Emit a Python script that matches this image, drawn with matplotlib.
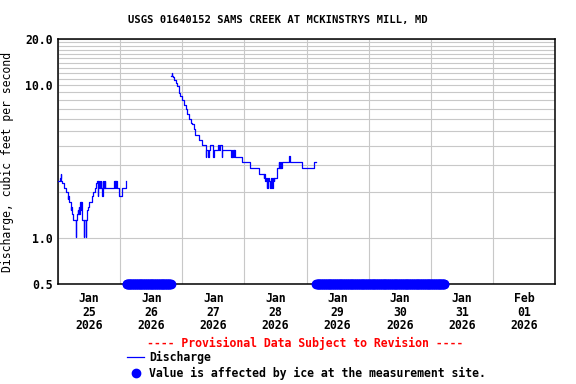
import pandas as pd
import matplotlib
matplotlib.use("Agg")
import matplotlib.pyplot as plt
import matplotlib.dates as mdates
from matplotlib.ticker import FixedLocator, NullFormatter
from matplotlib.lines import Line2D

plt.rcParams["font.family"] = ["DejaVu Sans Mono"]
plt.rcParams["font.weight"] = "bold"

start = pd.Timestamp("2026-01-25 00:00")

# discharge readings, hours after Jan 25 00:00 and cfs (step data)
seg1_hours = [0.0, 0.9, 1.1, 1.3, 1.7, 2.3, 3.0, 3.7, 3.9, 4.1, 4.3, 4.9, 5.2, 5.4, 5.5, 5.9,
              6.8, 7.0, 7.4, 7.6, 7.8, 8.0, 8.2, 8.5, 8.7, 8.9, 9.1, 9.2, 10.0, 10.2, 10.7,
              10.9, 11.1, 11.7, 12.1, 13.0, 13.7, 14.2, 14.8, 15.2, 15.4, 15.6, 15.9, 16.1,
              16.4, 16.6, 16.8, 17.0, 17.2, 17.4, 17.6, 17.8, 18.0, 18.2, 21.7, 21.9, 22.1,
              22.3, 22.5, 22.7, 23.6, 24.9, 26.2, 26.4]
seg1_cfs = [2.36, 2.45, 2.61, 2.36, 2.28, 2.11, 1.99, 1.80, 1.89, 1.80, 1.71, 1.52, 1.60, 1.52, 1.43, 1.32,
            1.02, 1.32, 1.43, 1.52, 1.43, 1.60, 1.43, 1.71, 1.52, 1.71, 1.60, 1.32, 1.02, 1.32, 1.02,
            1.32, 1.52, 1.60, 1.71, 1.89, 1.99, 2.11, 2.28, 2.36, 1.89, 2.36, 2.11, 2.36,
            2.11, 2.36, 2.11, 1.89, 2.36, 2.11, 2.36, 2.11, 2.36, 2.11, 2.36, 2.11, 2.36,
            2.11, 2.36, 2.11, 1.89, 2.11, 2.36, 2.36]

seg2_hours = [43.7, 43.9, 44.1, 44.6, 45.0, 45.5, 46.1, 46.6, 46.8, 47.2, 48.0, 48.5, 49.4, 49.9,
              50.7, 51.2, 51.7, 52.4, 53.1, 54.3, 55.8, 57.0, 57.1, 57.3, 58.1, 58.3, 58.6, 60.0,
              60.2, 61.7, 62.3, 62.5, 63.3, 63.5, 67.0, 67.2, 67.4, 67.6, 67.8, 68.0, 68.2, 68.4,
              68.5, 71.2, 74.3, 77.8, 79.5, 79.7, 79.9, 80.1, 80.4, 80.6, 80.8, 81.0, 81.2, 81.5,
              81.9, 82.1, 82.8, 83.0, 83.4, 83.6, 84.6, 85.2, 85.4, 85.6, 85.8, 86.0, 86.2, 86.5,
              89.4, 89.6, 94.3, 98.8, 99.5]
seg2_cfs = [11.46, 11.9, 11.46, 11.23, 10.79, 10.26, 9.85, 9.38, 8.91, 8.48, 7.98, 7.40, 6.94, 6.47,
            5.97, 5.67, 5.56, 5.16, 4.71, 4.37, 4.03, 3.76, 3.40, 3.76, 3.40, 3.76, 4.03, 3.40,
            3.76, 4.03, 3.76, 4.03, 3.40, 3.76, 3.40, 3.76, 3.40, 3.76, 3.40, 3.76, 3.40, 3.76,
            3.40, 3.14, 2.85, 2.61, 2.45, 2.61, 2.45, 2.36, 2.45, 2.11, 2.36, 2.11, 2.45, 2.36,
            2.11, 2.45, 2.11, 2.45, 2.36, 2.45, 2.85, 3.13, 2.85, 3.13, 2.85, 3.13, 2.85, 3.13,
            3.43, 3.13, 2.85, 3.13, 3.13]

# ice-affected periods (hours after Jan 25 00:00)
ice_start = [26.5, 99.75]
ice_end = [43.5, 149.25]

day_labels = ["Jan\n25\n2026", "Jan\n26\n2026", "Jan\n27\n2026", "Jan\n28\n2026",
              "Jan\n29\n2026", "Jan\n30\n2026", "Jan\n31\n2026", "Feb\n01\n2026"]

fig = plt.figure(figsize=(5.76, 3.84), dpi=100)
ax = fig.add_axes([58 / 576, 1 - 284 / 384, 497 / 576, 245 / 384])

for hrs, cfs in [(seg1_hours, seg1_cfs), (seg2_hours, seg2_cfs)]:
    t = start + pd.to_timedelta(hrs, unit="h")
    ax.plot(t, cfs, color="#0000ff", lw=0.9, drawstyle="steps-post", zorder=3)

for s, e in zip(ice_start, ice_end):
    t = pd.date_range(start + pd.Timedelta(hours=s), start + pd.Timedelta(hours=e), freq="15min")
    ax.plot(t, [0.5] * len(t), "o", color="#0000ff", ms=6, mec="#0000ff",
            clip_on=False, zorder=5)

ax.set_yscale("log")
ax.set_ylim(0.5, 20)
ax.set_xlim(start, start + pd.Timedelta(days=8))

ax.yaxis.set_major_locator(FixedLocator([0.5, 1, 10, 20]))
ax.yaxis.set_minor_locator(FixedLocator([2, 3, 4, 5, 6, 7, 8, 9, 11, 12, 13, 14, 15, 16, 17, 18, 19]))
ax.yaxis.set_minor_formatter(NullFormatter())
ax.set_yticklabels(["0.5", "1.0", "10.0", "20.0"])

days = pd.date_range(start, periods=9, freq="D")
ax.xaxis.set_major_locator(FixedLocator(mdates.date2num(days)))
ax.xaxis.set_major_formatter(NullFormatter())
noons = days[:-1] + pd.Timedelta(hours=12)
ax.xaxis.set_minor_locator(FixedLocator(mdates.date2num(noons)))
ax.set_xticks(mdates.date2num(noons), minor=True)
ax.set_xticklabels(day_labels, minor=True, linespacing=1.05)

ax.grid(True, which="major", color="#c8c8c8", lw=0.8)
ax.grid(True, which="minor", axis="y", color="#c8c8c8", lw=0.8)
ax.set_axisbelow(True)
ax.tick_params(which="both", length=0, labelsize=8.3)
ax.tick_params(axis="y", pad=4)
ax.tick_params(axis="x", which="minor", pad=6)
for sp in ax.spines.values():
    sp.set_linewidth(1.1)

ax.set_ylabel("Discharge, cubic feet per second", fontsize=8.3, labelpad=8)
fig.text(278 / 576, 1 - 20 / 384, "USGS 01640152 SAMS CREEK AT MCKINSTRYS MILL, MD",
         ha="center", va="center", fontsize=7.6)

fig.text(305 / 576, 1 - 343 / 384, "---- Provisional Data Subject to Revision ----",
         ha="center", va="center", fontsize=8.3, color="red")
fig.add_artist(Line2D([127 / 576, 144 / 576], [1 - 356.5 / 384] * 2, color="#0000ff", lw=0.9))
fig.text(149 / 576, 1 - 357 / 384, "Discharge", ha="left", va="center", fontsize=8.3)
fig.add_artist(Line2D([136 / 576], [1 - 372.5 / 384], marker="o", ms=6, color="#0000ff"))
fig.text(149 / 576, 1 - 373 / 384, "Value is affected by ice at the measurement site.",
         ha="left", va="center", fontsize=8.3)

fig.savefig("out.png", dpi=100)
